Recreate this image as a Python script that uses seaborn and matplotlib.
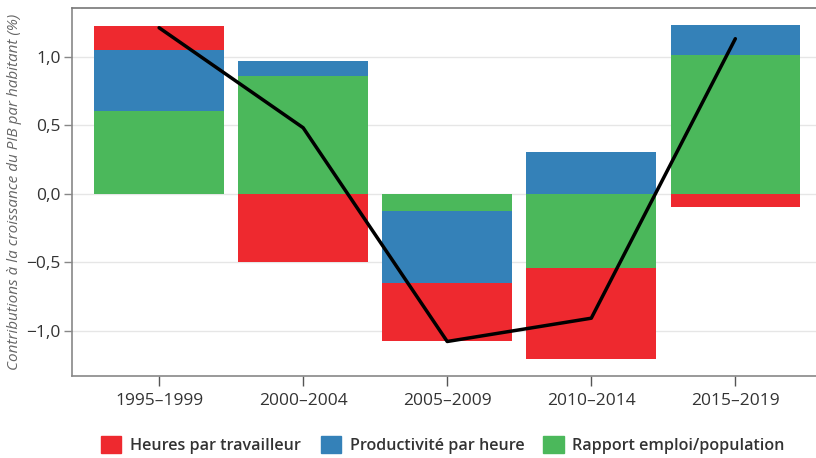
import numpy as np
import pandas as pd
import matplotlib
matplotlib.use("Agg")
import matplotlib.pyplot as plt
from matplotlib.patches import Patch
import seaborn as sns

# Data
periods = ["1995–1999", "2000–2004", "2005–2009", "2010–2014", "2015–2019"]
emploi_pop = [0.60, 0.86, -0.13, -0.54, 1.01]      # green
productivite = [0.45, 0.11, -0.52, 0.30, 0.22]     # blue
heures = [0.17, -0.50, -0.43, -0.67, -0.10]        # red
total = [1.21, 0.48, -1.08, -0.91, 1.13]           # black line

labels = ["Heures par travailleur", "Productivité par heure", "Rapport emploi/population"]
c_red, c_blue, c_green = "#EE292F", "#3481B8", "#4BB85B"

sns.set_theme(style="white")
plt.rcParams["font.family"] = ["Open Sans", "DejaVu Sans"]

# stack order from zero outward: green, blue, red (separately for + and -)
g = np.array(emploi_pop)
b = np.array(productivite)
r = np.array(heures)
pos_g = np.clip(g, 0, None)
pos_gb = pos_g + np.clip(b, 0, None)
pos_gbr = pos_gb + np.clip(r, 0, None)
neg_g = np.clip(g, None, 0)
neg_gb = neg_g + np.clip(b, None, 0)
neg_gbr = neg_gb + np.clip(r, None, 0)

fig = plt.figure(figsize=(8.16, 4.58), dpi=100)
ax = fig.add_axes([0.088, 0.179, 0.912, 0.8035])

for vals, col in [(pos_gbr, c_red), (pos_gb, c_blue), (pos_g, c_green),
                  (neg_gbr, c_red), (neg_gb, c_blue), (neg_g, c_green)]:
    sns.barplot(x=periods, y=vals, color=col, saturation=1, width=0.9, ax=ax,
                linewidth=0, edgecolor="none", zorder=2)

sns.lineplot(x=np.arange(len(periods)), y=total, color="black", linewidth=2.5, ax=ax, zorder=3)

ax.set_xlim(-0.606, 4.56)
ax.set_ylim(-1.332, 1.354)
ax.set_yticks([-1.0, -0.5, 0.0, 0.5, 1.0])
ax.set_yticklabels(["−1,0", "−0,5", "0,0", "0,5", "1,0"])
ax.yaxis.grid(True, color="#E6E6E6", linewidth=1, zorder=0)
ax.set_axisbelow(True)

ax.tick_params(axis="x", bottom=True, length=7, width=1, color="#555555",
               labelsize=12.5, labelcolor="#333333", pad=5)
ax.tick_params(axis="y", left=True, length=6, width=1, color="#888888",
               labelsize=12.5, labelcolor="#333333", pad=2)

for side in ["left", "bottom", "top"]:
    ax.spines[side].set_visible(True)
    ax.spines[side].set_color("#888888")
    ax.spines[side].set_linewidth(1.2)
ax.spines["top"].set_color("#777777")
ax.spines["right"].set_visible(False)

ax.set_xlabel("")
ax.set_ylabel("Contributions à la croissance du PIB par habitant (%)",
              fontsize=11, style="italic", color="#666666", labelpad=3)

handles = [Patch(color=c_red), Patch(color=c_blue), Patch(color=c_green)]
fig.legend(handles, labels, loc="center", bbox_to_anchor=(0.543, 0.028), ncol=3,
           frameon=False, handlelength=1.25, handleheight=1.25, handletextpad=0.55,
           columnspacing=1.2, prop={"size": 11.6, "weight": "semibold"},
           labelcolor="#333333")

fig.savefig("out.png", dpi=100)
